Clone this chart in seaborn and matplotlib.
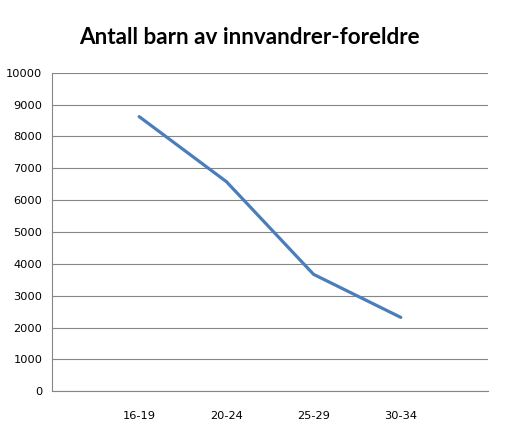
import matplotlib
matplotlib.use('Agg')
import matplotlib.pyplot as plt
import seaborn as sns
import pandas as pd

# data
alder = ['16-19', '20-24', '25-29', '30-34']
antall = [8620, 6580, 3670, 2320]
y_ticks = list(range(0, 10001, 1000))

df = pd.DataFrame({'alder': alder, 'antall': antall})

sns.set_style('white')
plt.rcParams['font.family'] = ['DejaVu Sans']

fig = plt.figure(figsize=(5.16, 4.40), dpi=100)
ax = fig.add_axes([0.1008, 0.1107, 0.8449, 0.7241])

sns.lineplot(data=df, x='alder', y='antall', ax=ax, color='#4A7EBB',
             linewidth=2.3, sort=False)

ax.set_ylim(0, 10000)
ax.set_yticks(y_ticks)
ax.set_yticklabels([str(v) for v in y_ticks], fontsize=8.2)
ax.set_xlim(-1, len(alder))
ax.set_xticks(range(-1, len(alder) + 1))
ax.set_xticklabels([''] + alder + [''], fontsize=8.2)

ax.yaxis.grid(True, color='#868686', linewidth=0.8)
ax.xaxis.grid(False)
ax.set_axisbelow(True)
for side in ['top', 'right']:
    ax.spines[side].set_visible(False)
for side in ['left', 'bottom']:
    ax.spines[side].set_color('#868686')
    ax.spines[side].set_linewidth(0.8)
ax.tick_params(axis='both', direction='out', length=4, width=0.8,
               color='#868686', labelcolor='black')
ax.tick_params(axis='x', pad=10)
ax.tick_params(axis='y', pad=3)
ax.set_xlabel('')
ax.set_ylabel('')

fig.text(0.484, 0.915, 'Antall barn av innvandrer-foreldre', ha='center',
         va='center', fontsize=16.2, fontweight='bold', color='black',
         family=['Lato', 'DejaVu Sans'])

fig.savefig('out.png', dpi=100, facecolor='white')
